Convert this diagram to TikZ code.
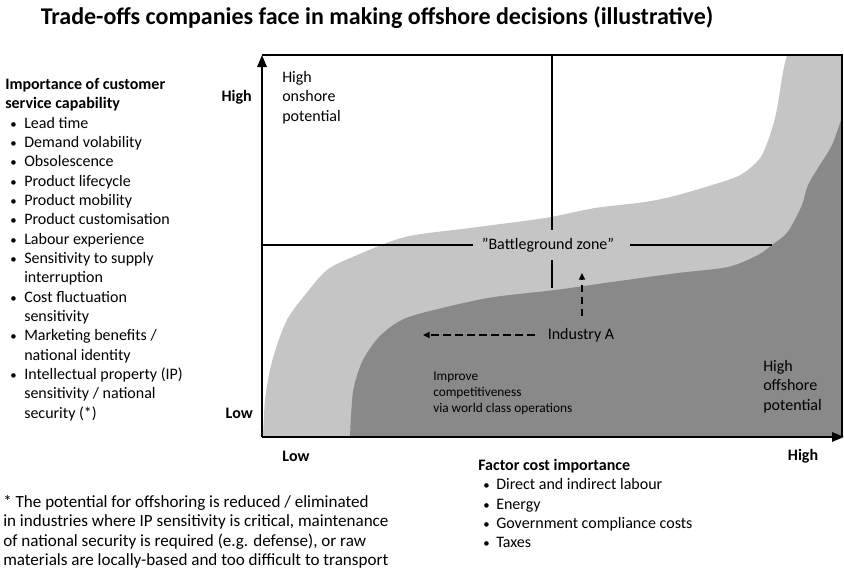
\documentclass[tikz,border=0pt]{standalone}
\usepackage{fontspec}
\setmainfont{Carlito}
\usetikzlibrary{positioning, arrows.meta}

\definecolor{zonelight}{RGB}{197,197,197}
\definecolor{zonedark}{RGB}{137,137,137}
\newcommand{\bul}[1]{\makebox[#1][l]{\hspace{3.9pt}\scalebox{0.8}{\textbullet}}}

\begin{document}
\begin{tikzpicture}[x=0.75pt, y=-0.75pt,
  axis/.style={line width=1.5pt, -{Triangle[length=9pt,width=7pt]}},
  guide/.style={line width=0.8pt},
  push/.style={line width=1.2pt, dash pattern=on 5.5pt off 3.5pt, -{Triangle[length=5pt,width=4.5pt]}},
  txt/.style={inner sep=0pt, align=left, font=\fontsize{12}{14.5}\selectfont},
  note/.style={inner sep=0pt, align=left, font=\fontsize{12.8}{14.6}\selectfont},
  small/.style={inner sep=0pt, align=left, font=\fontsize{10}{12}\selectfont},
  lab/.style={inner sep=0pt, font=\fontsize{12}{14.5}\selectfont\bfseries}]
  \useasboundingbox (0,0) rectangle (844,571);

  % Title
  \node[font=\fontsize{18}{21}\selectfont\bfseries] (title) at (377,18)
    {Trade-offs companies face in making offshore decisions (illustrative)};

  % Zones
  \fill[zonelight] plot[smooth] coordinates {(263,437) (265,400) (270,370) (277,345)
    (288,318) (305,295) (327,270) (355,256) (405,237) (470,228) (545,218) (595,208)
    (645,202) (678,195) (728,180) (745,172) (762,155) (775,118) (783,72) (787,55)}
    -- (842,55) -- (842,437) -- cycle;
  \fill[zonedark] plot[smooth] coordinates {(350,437) (353,392) (362,362) (378,338)
    (398,322) (422,313) (488,298) (555,290) (612,282) (678,273) (728,267) (758,255)
    (772,245) (785,235) (792,225) (802,205) (808,185) (818,168) (832,145) (842,117)}
    -- (842,437) -- cycle;

  % Frame and axes
  \coordinate (O) at (262,437);
  \coordinate (ytop) at (262,55);
  \coordinate (xend) at (844,437);
  \coordinate (tr) at (842,55);
  \coordinate (br) at (842,437);
  \draw[line width=0.8pt] (ytop) -- (tr) -- (br);
  \draw[axis] (O) -- (ytop);
  \draw[axis] (O) -- (xend);

  % Battleground guides
  \node[txt] (bz) at (548,245) {”Battleground zone”};
  \coordinate (bzl) at (473,245);
  \coordinate (bzr) at (630,245);
  \coordinate (bzend) at (772,245);
  \coordinate (vtop) at (552,55);
  \coordinate (vmid) at (552,230);
  \coordinate (vlow) at (552,260);
  \coordinate (vend) at (552,288);
  \draw[guide] (O |- bz) -- (bzl);
  \draw[guide] (bzr) -- (bzend);
  \draw[guide] (vtop) -- (vmid);
  \draw[guide] (vlow) -- (vend);

  % Industry A moves
  \node[txt] (inda) at (581,335) {Industry A};
  \coordinate (leftgoal) at (423,335);
  \coordinate (upgoal) at (582,273);
  \draw[push, shorten <=9.75pt] (inda.west) -- (leftgoal);
  \draw[push, shorten <=9pt] (inda.north -| upgoal) -- (upgoal);

  % Zone labels
  \node[txt, anchor=north west] (onshore) at (282,71) {High\\onshore\\potential};
  \node[txt, anchor=north west] (offshore) at (763,360) {High\\offshore\\potential};
  \node[small, anchor=north west] (improve) at (433,372)
    {Improve\\competitiveness\\via world class operations};

  % Axis labels
  \node[lab, anchor=east] (yhigh) at (252,97) {High};
  \node[lab, anchor=east] (ylow) at (253,413) {Low};
  \node[lab] (xlow) at (296,456) {Low};
  \node[lab] (xhigh) at (803,456) {High};

  % Service capability list
  \node[txt, anchor=north west] (service) at (5,78) {%
    \textbf{Importance of customer}\\
    \textbf{service capability}\\
    \bul{14.25pt}Lead time\\
    \bul{14.25pt}Demand volability\\
    \bul{14.25pt}Obsolescence\\
    \bul{14.25pt}Product lifecycle\\
    \bul{14.25pt}Product mobility\\
    \bul{14.25pt}Product customisation\\
    \bul{14.25pt}Labour experience\\
    \bul{14.25pt}Sensitivity to supply\\
    \hspace*{14.25pt}interruption\\
    \bul{14.25pt}Cost fluctuation\\
    \hspace*{14.25pt}sensitivity\\
    \bul{14.25pt}Marketing benefits /\\
    \hspace*{14.25pt}national identity\\
    \bul{14.25pt}Intellectual property (IP)\\
    \hspace*{14.25pt}sensitivity / national\\
    \hspace*{14.25pt}security (*)};

  % Factor cost list
  \node[txt, anchor=north west] (factor) at (478,459) {%
    \textbf{Factor cost importance}\\
    \bul{13.5pt}Direct and indirect labour\\
    \bul{13.5pt}Energy\\
    \bul{13.5pt}Government compliance costs\\
    \bul{13.5pt}Taxes};

  % Footnote
  \node[note, anchor=north west] (foot) at (3,495) {%
    * The potential for offshoring is reduced / eliminated\\
    in industries where IP sensitivity is critical, maintenance\\
    of national security is required (e.g. defense), or raw\\
    materials are locally-based and too difficult to transport};
\end{tikzpicture}
\end{document}
